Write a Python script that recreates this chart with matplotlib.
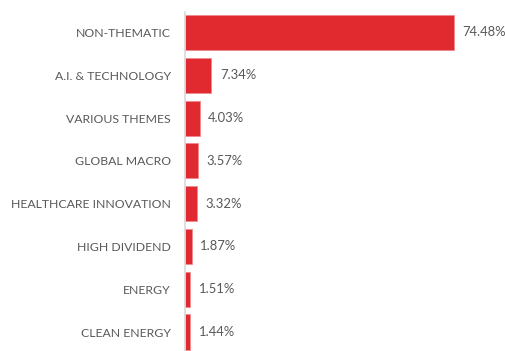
import matplotlib
matplotlib.use("Agg")
import matplotlib.pyplot as plt

categories = ["NON-THEMATIC", "A.I. & TECHNOLOGY", "VARIOUS THEMES", "GLOBAL MACRO",
              "HEALTHCARE INNOVATION", "HIGH DIVIDEND", "ENERGY", "CLEAN ENERGY"]
weights = [74.48, 7.34, 4.03, 3.57, 3.32, 1.87, 1.51, 1.44]

plt.rcParams['font.family'] = ['Lato', 'DejaVu Sans']
text_color = '#595959'
bar_color = '#E02A2F'

fig = plt.figure(figsize=(5.06, 3.51), dpi=100)
ax = fig.add_axes([185 / 506, 0, 321 / 506, 339 / 351])

y = list(range(len(categories)))
ax.barh(y, weights, height=0.82, color=bar_color, edgecolor='#F08A8D', linewidth=0.6)

for yi, w in zip(y, weights):
    ax.text(w + 2.4, yi, f"{w:.2f}%", va='center', ha='left', fontsize=9.4, color=text_color)

ax.set_yticks(y)
ax.set_yticklabels(categories, fontsize=8.8, color=text_color)
ax.tick_params(axis='y', length=0, pad=10)
ax.set_xticks([])
ax.set_xlim(0, 321 / 3.61)
ax.set_ylim(7 + 19 / 42.8, -20.5 / 42.8)

for s in ['top', 'right', 'bottom']:
    ax.spines[s].set_visible(False)
ax.spines['left'].set_color('#D9D9D9')
ax.spines['left'].set_linewidth(1.2)

fig.savefig("out.png", dpi=100)
